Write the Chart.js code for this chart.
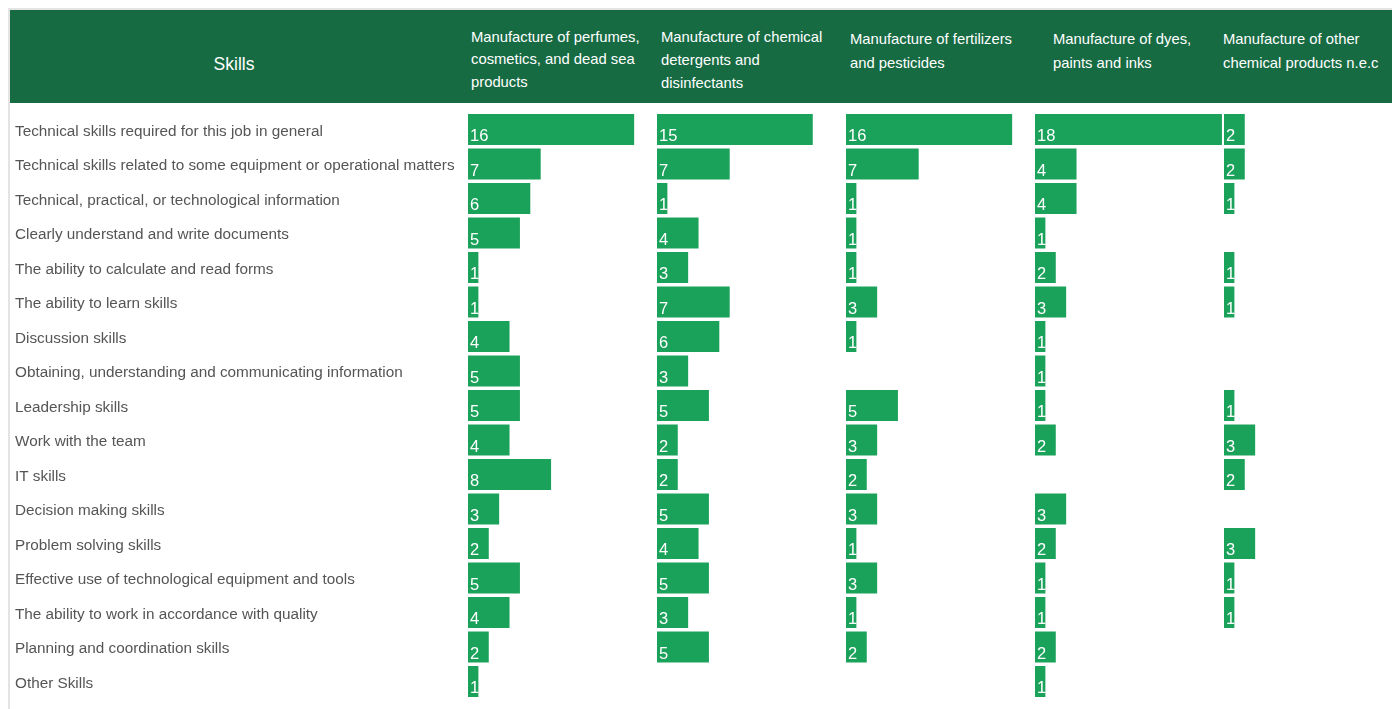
<!DOCTYPE html>
<html>
<head>
<meta charset="utf-8">
<title>Skills by industry</title>
<script src="https://cdn.jsdelivr.net/npm/chart.js@4.4.1/dist/chart.umd.min.js"></script>
<style>
  html, body { margin: 0; padding: 0; background: #fff; width: 1392px; height: 709px; overflow: hidden; }
  body { position: relative; font-family: "Liberation Sans", Arial, sans-serif; }
  #frame { position: absolute; left: 8px; top: 8px; width: 1500px; height: 800px;
           border-left: 2px solid #e4e4e4; border-top: 2px solid #e4e4e4; }
  #head { position: absolute; left: 10px; top: 10px; width: 1420px; height: 93px; background: #176b43; color: #fff; }
  #head .skills { position: absolute; left: 0; width: 448px; top: 43px; text-align: center; font-size: 17.5px; line-height: 22px; }
  #head .col { position: absolute; font-size: 14.8px; white-space: nowrap; }
  #box { position: absolute; left: 0; top: 103px; width: 1420px; height: 606px; }
</style>
</head>
<body>
<div id="frame"></div>
<div id="head"></div>
<div id="box"><canvas id="skillsChart"></canvas></div>
<script>
const skills = [
  "Technical skills required for this job in general",
  "Technical skills related to some equipment or operational matters",
  "Technical, practical, or technological information",
  "Clearly understand and write documents",
  "The ability to calculate and read forms",
  "The ability to learn skills",
  "Discussion skills",
  "Obtaining, understanding and communicating information",
  "Leadership skills",
  "Work with the team",
  "IT skills",
  "Decision making skills",
  "Problem solving skills",
  "Effective use of technological equipment and tools",
  "The ability to work in accordance with quality",
  "Planning and coordination skills",
  "Other Skills"
];

const industries = [
  ["Manufacture of perfumes,", "cosmetics, and dead sea", "products"],
  ["Manufacture of chemical", "detergents and", "disinfectants"],
  ["Manufacture of fertilizers", "and pesticides"],
  ["Manufacture of dyes,", "paints and inks"],
  ["Manufacture of other", "chemical products n.e.c"]
];

const perfumes    = [16, 7, 6, 5, 1, 1, 4, 5, 5, 4, 8, 3, 2, 5, 4, 2, 1];
const detergents  = [15, 7, 1, 4, 3, 7, 6, 3, 5, 2, 2, 5, 4, 5, 3, 5, null];
const fertilizers = [16, 7, 1, 1, 1, 3, 1, null, 5, 3, 2, 3, 1, 3, 1, 2, null];
const dyes        = [18, 4, 4, 1, 2, 3, 1, 1, 1, 2, null, 3, 2, 1, 1, 2, 1];
const otherChem   = [2, 2, 1, null, 1, 1, null, null, 1, 3, 2, null, 3, 1, 1, null, null];

const series = [perfumes, detergents, fertilizers, dyes, otherChem];

// header cells: left edge and top of each text block
const headPos = [
  { left: 461, top: 15.5, lh: 22.5 },
  { left: 651, top: 16, lh: 23 },
  { left: 840, top: 17, lh: 24 },
  { left: 1043, top: 17, lh: 24 },
  { left: 1213, top: 17, lh: 24 }
];

const head = document.getElementById("head");
const sk = document.createElement("div");
sk.className = "skills";
sk.textContent = "Skills";
head.appendChild(sk);
industries.forEach((lines, i) => {
  const d = document.createElement("div");
  d.className = "col";
  d.style.left = headPos[i].left + "px";
  d.style.top = headPos[i].top + "px";
  d.style.lineHeight = headPos[i].lh + "px";
  d.innerHTML = lines.join("<br>");
  head.appendChild(d);
});

const BAR = "#1aa15a";

// white value printed at the start of each bar
const valueLabels = {
  id: "valueLabels",
  afterDatasetsDraw(chart) {
    const ctx = chart.ctx;
    ctx.save();
    ctx.fillStyle = "#fff";
    ctx.font = '16.5px "Liberation Sans", Arial, sans-serif';
    ctx.textAlign = "left";
    ctx.textBaseline = "alphabetic";
    chart.data.datasets.forEach((ds, i) => {
      chart.getDatasetMeta(i).data.forEach((bar, j) => {
        const v = ds.data[j];
        if (v == null) return;
        const p = bar.getProps(["y", "base", "height"], true);
        ctx.fillText(String(v), p.base + 2, p.y + p.height / 2 - 4);
      });
    });
    ctx.restore();
  }
};

const scales = {
  y: {
    type: "category",
    position: "left",
    grid: { display: false },
    border: { display: false },
    ticks: {
      autoSkip: false,
      crossAlign: "far",
      padding: 0,
      labelOffset: 2,
      color: "#555",
      font: { family: '"Liberation Sans", Arial, sans-serif', size: 15.3 }
    },
    afterFit(scale) { scale.width = 453; }
  }
};
series.forEach((_, i) => {
  scales["x" + i] = {
    axis: "x",
    type: "linear",
    position: "bottom",
    stack: "cols",
    stackWeight: 1,
    min: 0,
    max: 18.2,
    display: false
  };
});

new Chart(document.getElementById("skillsChart"), {
  type: "bar",
  data: {
    labels: skills,
    datasets: series.map((vals, i) => ({
      label: industries[i].join(" "),
      data: vals,
      xAxisID: "x" + i,
      yAxisID: "y",
      backgroundColor: BAR,
      borderWidth: 0,
      grouped: false,
      barPercentage: 0.9,
      categoryPercentage: 1
    }))
  },
  options: {
    indexAxis: "y",
    responsive: true,
    maintainAspectRatio: false,
    animation: false,
    layout: { padding: { left: 15, right: 7, top: 9.25, bottom: 10.25 } },
    plugins: {
      legend: { display: false },
      tooltip: { enabled: false }
    },
    scales: scales
  },
  plugins: [valueLabels]
});
</script>
</body>
</html>
